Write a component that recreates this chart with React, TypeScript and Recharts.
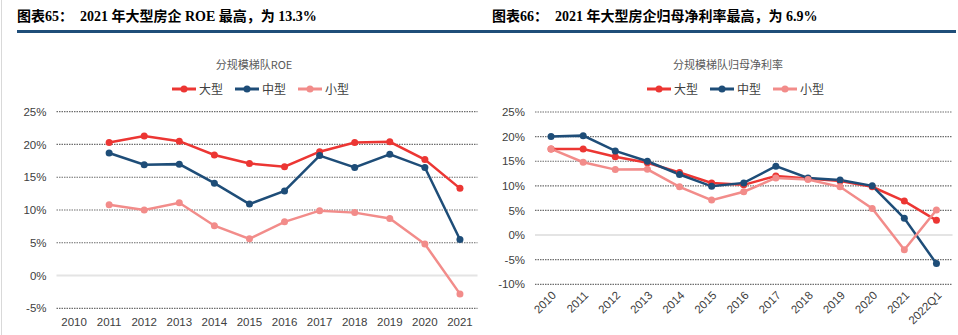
import React from 'react';
import { LineChart, Line, XAxis, YAxis, CartesianGrid, ReferenceLine } from 'recharts';

// left: ROE by size tier
const roeYears = ['2010', '2011', '2012', '2013', '2014', '2015', '2016', '2017', '2018', '2019', '2020', '2021'];
const roeLarge = [null, 20.3, 21.3, 20.5, 18.4, 17.1, 16.6, 18.9, 20.3, 20.4, 17.7, 13.3];
const roeMid = [null, 18.7, 16.9, 17.0, 14.1, 10.9, 12.9, 18.3, 16.5, 18.5, 16.5, 5.5];
const roeSmall = [null, 10.8, 10.0, 11.1, 7.6, 5.6, 8.2, 9.9, 9.6, 8.7, 4.8, -2.8];
const roeTicks = [-5, 0, 5, 10, 15, 20, 25];

// right: net margin attributable to parent
const npPeriods = ['2010', '2011', '2012', '2013', '2014', '2015', '2016', '2017', '2018', '2019', '2020', '2021', '2022Q1'];
const npLarge = [17.5, 17.5, 15.9, 14.7, 12.7, 10.6, 10.2, 12.0, 11.5, 11.0, 9.8, 6.9, 3.0];
const npMid = [20.0, 20.2, 17.1, 15.0, 12.3, 9.9, 10.6, 14.0, 11.6, 11.2, 10.0, 3.4, -5.8];
const npSmall = [17.5, 14.8, 13.3, 13.35, 9.8, 7.1, 8.8, 11.6, 11.3, 9.8, 5.4, -3.0, 5.1];
const npTicks = [-10, -5, 0, 5, 10, 15, 20, 25];

const seriesNames = ['大型', '中型', '小型'];
const COLORS = ['#EC3633', '#1E4D78', '#F28C8A'];

const tickFont = { fontSize: 11.5, fill: '#404040', fontFamily: '"Liberation Sans", Arial, sans-serif' };
const cjk = '"Liberation Serif", "Noto Sans CJK SC", serif';

const toRows = (cats: string[], a: (number | null)[], b: (number | null)[], c: (number | null)[]) =>
  cats.map((cat, i) => ({ cat, s0: a[i], s1: b[i], s2: c[i] }));

const Legend: React.FC<{ left: number }> = ({ left }) => (
  <div style={{ position: 'absolute', top: 80, left, display: 'flex', alignItems: 'center', gap: 12 }}>
    {seriesNames.map((n, i) => (
      <div key={n} style={{ display: 'flex', alignItems: 'center', gap: 3 }}>
        <svg width={24} height={10}>
          <line x1={0} y1={5} x2={24} y2={5} stroke={COLORS[i]} strokeWidth={3} />
          <circle cx={12} cy={5} r={3.5} fill={COLORS[i]} />
        </svg>
        <span style={{ fontSize: 12, color: '#404040', fontFamily: '"Noto Sans CJK SC", sans-serif', lineHeight: '18px' }}>{n}</span>
      </div>
    ))}
  </div>
);

interface PanelProps {
  x: number;
  width: number;
  heading: string;
  subtitle: string;
  subtitleCenter: number;
  legendLeft: number;
  rows: ReturnType<typeof toRows>;
  ticks: number[];
  rotateX?: boolean;
  margin: { top: number; right: number; left: number; bottom: number };
  yWidth: number;
  xHeight: number;
}

const Panel: React.FC<PanelProps> = ({ x, width, heading, subtitle, subtitleCenter, legendLeft, rows, ticks, rotateX, margin, yWidth, xHeight }) => (
  <div style={{ position: 'absolute', left: x, top: 0, width, height: 335 }}>
    <div style={{ position: 'absolute', left: 12, top: 5, fontSize: 14, fontWeight: 700, fontFamily: cjk, color: '#000', whiteSpace: 'pre' }}>
      {heading}
    </div>
    <div
      style={{
        position: 'absolute', top: 56, left: subtitleCenter - 100, width: 200, textAlign: 'center',
        fontSize: 11, color: '#595959', fontFamily: '"Noto Sans CJK SC", sans-serif',
      }}
    >
      {subtitle}
    </div>
    <Legend left={legendLeft} />
    <div style={{ position: 'absolute', left: 0, top: 40 }}>
      <LineChart width={width} height={295} data={rows} margin={margin}>
        <CartesianGrid
          vertical={false}
          horizontalValues={ticks.filter(t => t !== 0)}
          stroke="#6e6e6e"
          strokeDasharray="1.5 1"
          strokeWidth={1.2}
        />
        <ReferenceLine y={0} stroke="#e4e4e4" strokeWidth={2} />
        <XAxis
          dataKey="cat"
          scale="band"
          axisLine={false}
          tickLine={false}
          tickSize={0}
          tickMargin={rotateX ? 6 : 10}
          interval={0}
          height={xHeight}
          tick={tickFont}
          angle={rotateX ? -45 : 0}
          textAnchor={rotateX ? 'end' : 'middle'}
        />
        <YAxis
          type="number"
          domain={[ticks[0], ticks[ticks.length - 1]]}
          ticks={ticks}
          axisLine={false}
          tickLine={false}
          tickSize={0}
          tickMargin={10}
          width={yWidth}
          tick={tickFont}
          tickFormatter={(v: number) => `${v}%`}
        />
        {seriesNames.map((n, i) => (
          <Line
            key={n}
            dataKey={`s${i}`}
            name={n}
            stroke={COLORS[i]}
            strokeWidth={2.5}
            dot={{ r: 3.5, fill: COLORS[i], stroke: COLORS[i], strokeWidth: 0 }}
            isAnimationActive={false}
          />
        ))}
      </LineChart>
    </div>
  </div>
);

export default function App() {
  return (
    <div style={{ position: 'absolute', left: 0, top: 0, width: 958, height: 335, background: '#fff', overflow: 'hidden' }}>
      <div style={{ position: 'absolute', left: 1, top: 0, width: 1, height: 335, background: '#d9d9d9' }} />
      <div style={{ position: 'absolute', left: 17, top: 30, width: 939, height: 3, background: '#1F4E79' }} />
      <Panel
        x={5}
        width={475}
        heading={'图表65：  2021 年大型房企 ROE 最高，为 13.3%'}
        subtitle="分规模梯队ROE"
        subtitleCenter={249}
        legendLeft={167}
        rows={toRows(roeYears, roeLarge, roeMid, roeSmall)}
        ticks={roeTicks}
        margin={{ top: 71.7, right: 2.5, left: 0, bottom: 4.7 }}
        yWidth={51.5}
        xHeight={22}
      />
      <Panel
        x={480}
        width={478}
        heading={'图表66：  2021 年大型房企归母净利率最高，为 6.9%'}
        subtitle="分规模梯队归母净利率"
        subtitleCenter={248}
        legendLeft={167}
        rows={toRows(npPeriods, npLarge, npMid, npSmall)}
        ticks={npTicks}
        rotateX
        margin={{ top: 72, right: 5.5, left: 0, bottom: 5.7 }}
        yWidth={55}
        xHeight={45}
      />
    </div>
  );
}
